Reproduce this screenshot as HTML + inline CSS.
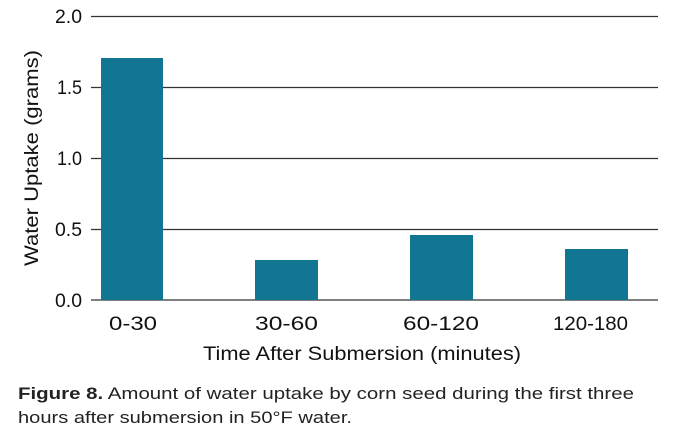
<!DOCTYPE html>
<html><head><style>
body{margin:0;width:697px;height:435px;background:#fff;font-family:"Liberation Sans",sans-serif;overflow:hidden}
</style></head><body>
<svg width="697" height="435" xmlns="http://www.w3.org/2000/svg" style="position:absolute;left:0;top:0">
<g stroke="#333" stroke-width="1.2">
<line x1="91" x2="658" y1="16.5" y2="16.5"/>
<line x1="91" x2="658" y1="87.5" y2="87.5"/>
<line x1="91" x2="658" y1="158.5" y2="158.5"/>
<line x1="91" x2="658" y1="229.5" y2="229.5"/>
<line x1="91" x2="658" y1="300" y2="300"/>
</g>
<g fill="#127592">
<rect x="101" y="58" width="62" height="242"/>
<rect x="255" y="260" width="63" height="40"/>
<rect x="410" y="235" width="63" height="65"/>
<rect x="565" y="249" width="63" height="51"/>
</g>
<g font-size="19" fill="#111">
<text x="55" y="23" textLength="27" lengthAdjust="spacingAndGlyphs">2.0</text>
<text x="57" y="94" textLength="25" lengthAdjust="spacingAndGlyphs">1.5</text>
<text x="57" y="165" textLength="25" lengthAdjust="spacingAndGlyphs">1.0</text>
<text x="55" y="236" textLength="27" lengthAdjust="spacingAndGlyphs">0.5</text>
<text x="55" y="307" textLength="27" lengthAdjust="spacingAndGlyphs">0.0</text>
<text x="109" y="330" textLength="48" lengthAdjust="spacingAndGlyphs">0-30</text>
<text x="255" y="330" textLength="63" lengthAdjust="spacingAndGlyphs">30-60</text>
<text x="403" y="330" textLength="76" lengthAdjust="spacingAndGlyphs">60-120</text>
<text x="553" y="330" textLength="75" lengthAdjust="spacingAndGlyphs">120-180</text>
<text x="203" y="360" textLength="318" lengthAdjust="spacingAndGlyphs">Time After Submersion (minutes)</text>
<text transform="translate(38,266) rotate(-90)" textLength="216" lengthAdjust="spacingAndGlyphs">Water Uptake (grams)</text>
</g>
<g font-size="17" fill="#222">
<text x="18" y="399" textLength="616" lengthAdjust="spacingAndGlyphs"><tspan font-weight="bold">Figure 8.</tspan> Amount of water uptake by corn seed during the first three</text>
<text x="18" y="423" textLength="334" lengthAdjust="spacingAndGlyphs">hours after submersion in 50°F water.</text>
</g>
</svg>
</body></html>
